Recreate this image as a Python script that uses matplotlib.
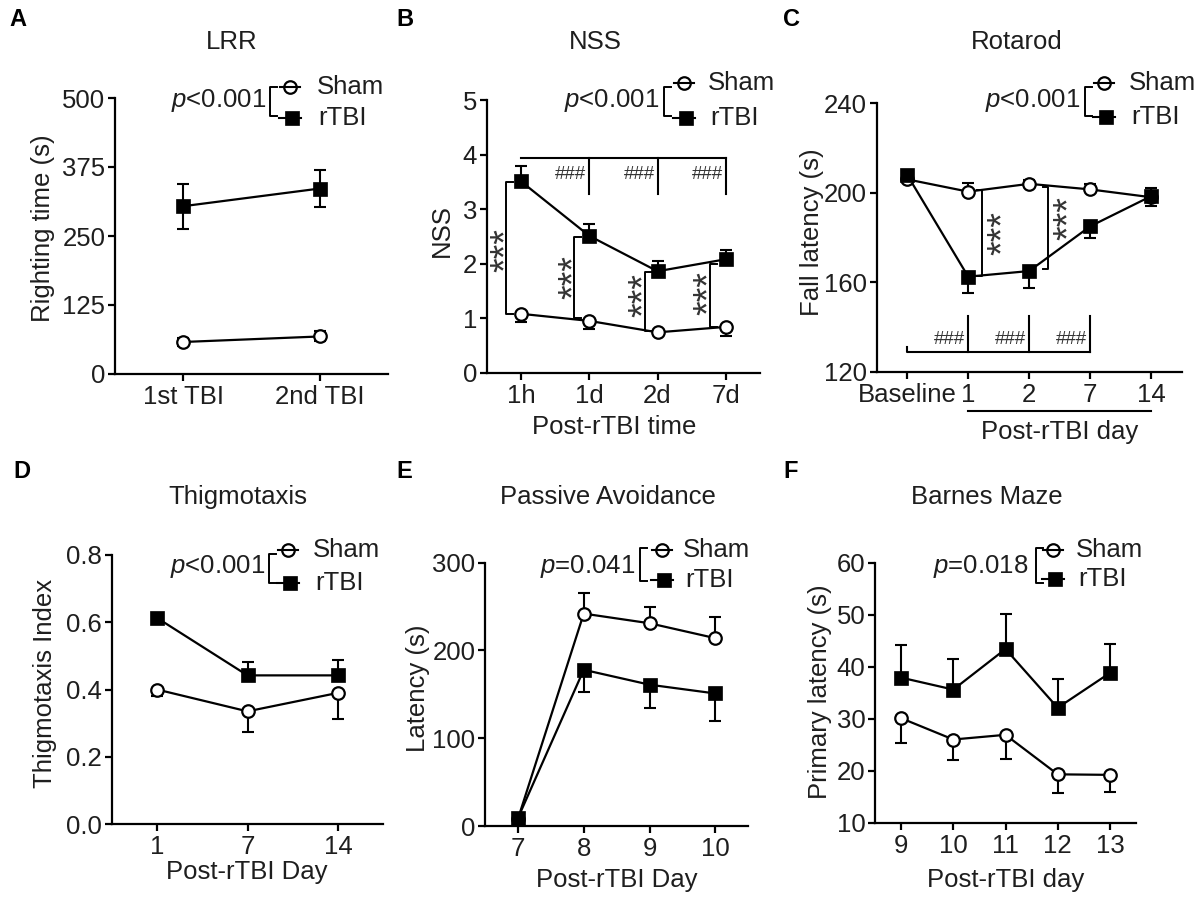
import matplotlib
matplotlib.use('Agg')
import matplotlib.pyplot as plt
from matplotlib.lines import Line2D
import matplotlib.transforms as mtransforms
import numpy as np

plt.rcParams['font.family'] = ['Liberation Sans', 'DejaVu Sans']
plt.rcParams['mathtext.fontset'] = 'custom'
plt.rcParams['mathtext.it'] = 'Liberation Sans:italic'
plt.rcParams['mathtext.rm'] = 'Liberation Sans'

# ---------------- data ----------------
A_groups = ['1st TBI', '2nd TBI']
A_sham = [58, 68]
A_sham_sem = [8, 9]
A_rtbi = [304, 336]
A_rtbi_sem = [41, 34]

B_times = ['1h', '1d', '2d', '7d']
B_sham = [1.08, 0.95, 0.74, 0.84]
B_sham_sem = [0.15, 0.15, 0.05, 0.17]
B_rtbi = [3.51, 2.51, 1.86, 2.08]
B_rtbi_sem = [0.28, 0.22, 0.18, 0.17]

C_days = ['Baseline', '1', '2', '7', '14']
C_sham = [206, 200.5, 204, 201.5, 198]
C_sham_sem = [2, 4, 1.5, 2.5, 4]
C_rtbi = [208, 162.5, 165, 185, 198.5]
C_rtbi_sem = [2.5, 7.5, 7.5, 5, 4.5]

D_days = ['1', '7', '14']
D_sham = [0.40, 0.335, 0.39]
D_sham_sem = [0.02, 0.06, 0.077]
D_rtbi = [0.613, 0.442, 0.442]
D_rtbi_sem = [0.01, 0.04, 0.047]

E_days = ['7', '8', '9', '10']
E_sham = [8, 242, 231, 214]
E_sham_sem = [3, 23, 19, 24]
E_rtbi = [9, 178, 161, 151]
E_rtbi_sem = [3, 25, 27, 31]

F_days = ['9', '10', '11', '12', '13']
F_sham = [30.1, 26.0, 26.9, 19.3, 19.2]
F_sham_sem = [4.7, 3.9, 4.7, 3.6, 3.3]
F_rtbi = [37.9, 35.6, 43.4, 32.1, 38.8]
F_rtbi_sem = [6.2, 5.9, 6.8, 5.5, 5.5]

p_values = ['$p$<0.001', '$p$<0.001', '$p$<0.001', '$p$<0.001', '$p$=0.041', '$p$=0.018']

# ---------------- layout helpers ----------------
W, H = 1200, 898
fig = plt.figure(figsize=(12, 8.98), dpi=100)
TXT = '#1e1e1e'
FS = 18.5


def fx(px):
    return px / W


def fy(py):
    return 1 - py / H


def make_ax(l, r, t, b):
    ax = fig.add_axes([fx(l), fy(b), (r - l) / W, (b - t) / H])
    for s in ['top', 'right']:
        ax.spines[s].set_visible(False)
    for s in ['left', 'bottom']:
        ax.spines[s].set_linewidth(1.6)
        ax.spines[s].set_color('black')
    ax.tick_params(direction='out', length=5, width=1.6, labelsize=FS,
                   labelcolor=TXT, pad=3)
    ax.tick_params(axis='y', pad=2)
    ax.set_facecolor('none')
    return ax


def set_labels(ax, xlabel=None, xpos=None, ylabel=None, ypos=None):
    if xlabel is not None:
        ax.set_xlabel(xlabel, fontsize=FS, color=TXT)
        ax.xaxis.set_label_coords(*xpos)
        ax.xaxis.label.set_verticalalignment('center')
    if ylabel is not None:
        ax.set_ylabel(ylabel, fontsize=FS, color=TXT)
        ax.yaxis.set_label_coords(*ypos)
        ax.yaxis.label.set_verticalalignment('center')


def draw_series(ax, y, sem, kind, direction):
    x = np.arange(len(y))
    y = np.asarray(y, float)
    sem = np.asarray(sem, float)
    lo = sem if direction in ('down', 'both') else np.zeros_like(sem)
    hi = sem if direction in ('up', 'both') else np.zeros_like(sem)
    ax.errorbar(x, y, yerr=[lo, hi], fmt='none', ecolor='k', elinewidth=1.5,
                capsize=4.5, capthick=1.5, zorder=2, clip_on=False)
    ax.plot(x, y, '-', color='k', lw=1.6, zorder=3, clip_on=False)
    if kind == 'sham':
        ax.plot(x, y, 'o', ms=9, mfc='white', mec='k', mew=1.6, zorder=4, clip_on=False)
    else:
        ax.plot(x, y, 's', ms=10.5, mfc='k', mec='k', mew=0.5, zorder=5, clip_on=False)


def fig_line(xs, ys, lw=1.5):
    fig.add_artist(Line2D([fx(v) for v in xs], [fy(v) for v in ys],
                          transform=fig.transFigure, color='k', lw=lw))


def legend(cx, cy_c, cy_s, tx, p_txt, p_right, p_y, br_x0, br_x1, br_y0, br_y1):
    # sham handle (line runs through the open circle)
    fig_line([cx - 10, cx + 10], [cy_c, cy_c])
    fig.add_artist(Line2D([fx(cx)], [fy(cy_c)], transform=fig.transFigure,
                          marker='o', ms=9, mfc='none', mec='k', mew=1.6, ls='none'))
    # rTBI handle
    fig_line([cx - 11, cx + 11], [cy_s, cy_s])
    fig.add_artist(Line2D([fx(cx + 2)], [fy(cy_s)], transform=fig.transFigure,
                          marker='s', ms=10.5, mfc='k', mec='k', mew=0.5, ls='none'))
    fig.text(fx(tx), fy(cy_c), 'Sham', fontsize=FS, color=TXT, ha='left', va='center')
    fig.text(fx(tx + 2), fy(cy_s), 'rTBI', fontsize=FS, color=TXT, ha='left', va='center')
    fig.text(fx(p_right), fy(p_y), p_txt, fontsize=FS, color=TXT, ha='right', va='center')
    fig_line([br_x1, br_x0, br_x0, br_x1], [br_y0, br_y0, br_y1, br_y1], lw=1.4)


def title(x, y, s):
    fig.text(fx(x), fy(y), s, fontsize=FS, color=TXT, ha='center', va='center')


def letter(x, y, s):
    fig.text(fx(x), fy(y), s, fontsize=17, fontweight='bold', color='k',
             ha='left', va='center')


def stars(ax, x, y, dx_px):
    off = mtransforms.ScaledTranslation(dx_px / 100, 0, fig.dpi_scale_trans)
    ax.text(x, y, '***', fontsize=27, color='#333333', rotation=90,
            ha='center', va='center', transform=ax.transData + off)


# ---------------- Panel A ----------------
axA = make_ax(115, 388, 98, 374)
draw_series(axA, A_sham, A_sham_sem, 'sham', 'both')
draw_series(axA, A_rtbi, A_rtbi_sem, 'rtbi', 'both')
axA.set_xlim(-0.5, 1.5)
axA.set_ylim(0, 500)
axA.set_yticks([0, 125, 250, 375, 500])
axA.set_xticks(range(len(A_groups)))
axA.set_xticklabels(A_groups)
set_labels(axA, ylabel='Righting time (s)', ypos=(-0.265, 0.53))
title(231.7, 41.7, 'LRR')
letter(9, 20, 'A')
legend(290, 86.7, 118.3, 316.7, p_values[0], 266.5, 100, 270, 277, 87, 116)

# ---------------- Panel B ----------------
axB = make_ax(486.7, 760, 100, 372.7)
draw_series(axB, B_sham, B_sham_sem, 'sham', 'down')
draw_series(axB, B_rtbi, B_rtbi_sem, 'rtbi', 'up')
axB.set_xlim(-0.5, 3.5)
axB.set_ylim(0, 5)
axB.set_yticks([0, 1, 2, 3, 4, 5])
axB.set_xticks(range(len(B_times)))
axB.set_xticklabels(B_times)
set_labels(axB, xlabel='Post-rTBI time',
           xpos=((614.5 - 486.7) / 273.3, -(426.7 - 372.7) / 272.7),
           ylabel='NSS', ypos=(-0.165, 0.523))
title(595.7, 41.7, 'NSS')
letter(396, 20, 'B')
legend(683.5, 83.3, 118.3, 708.3, p_values[1], 659.5, 100, 664, 671, 87, 116)

# B annotations: ### comparisons vs 1h
B_hash_y_top, B_hash_y_bot, B_hash_y_txt = 3.93, 3.28, 3.63
axB.plot([0, 3], [B_hash_y_top, B_hash_y_top], color='k', lw=1.5, clip_on=False)
for xi in [1, 2, 3]:
    axB.plot([xi, xi], [B_hash_y_top, B_hash_y_bot], color='k', lw=1.5, clip_on=False)
    axB.text(xi - 0.04, B_hash_y_txt, '###', fontsize=13.5, color='#333333',
             ha='right', va='center')
# *** brackets sham vs rTBI
B_br_x = [-0.215, 0.78, 1.82, 2.77]
B_br_top = [3.49, 2.48, 1.85, 1.99]
B_br_bot = [1.08, 1.0, 0.77, 0.84]
B_star_x = [-0.36, 0.64, 1.66, 2.62]
B_star_y = [2.25, 1.76, 1.43, 1.46]
for xb, t, b, sx, sy in zip(B_br_x, B_br_top, B_br_bot, B_star_x, B_star_y):
    axB.plot([xb + 0.1, xb, xb, xb + 0.1], [t, t, b, b], color='k', lw=1.4,
             clip_on=False, zorder=1)
    stars(axB, sx, sy, 10)

# ---------------- Panel C ----------------
axC = make_ax(876.7, 1181.7, 103.3, 371.7)
draw_series(axC, C_sham, C_sham_sem, 'sham', 'up')
draw_series(axC, C_rtbi, C_rtbi_sem, 'rtbi', 'down')
axC.set_xlim(-0.5, 4.5)
axC.set_ylim(120, 240)
axC.set_yticks([120, 160, 200, 240])
axC.set_xticks(range(len(C_days)))
axC.set_xticklabels(C_days)
set_labels(axC, ylabel='Fall latency (s)', ypos=(-0.213, 0.52))
trC = mtransforms.blended_transform_factory(axC.transData, axC.transAxes)
axC.plot([1, 4], [-0.146, -0.146], color='k', lw=1.5, transform=trC, clip_on=False)
axC.text(2.5, -0.2235, 'Post-rTBI day', fontsize=FS, color=TXT, ha='center',
         va='center', transform=trC)
title(1017, 42, 'Rotarod')
letter(783, 20, 'C')
legend(1104, 83.3, 116.7, 1129.3, p_values[2], 1080, 100, 1085, 1092, 87, 116)

# C annotations
C_hash_y_base, C_hash_y_top, C_hash_y_txt = 128.7, 144.8, 134.4
axC.plot([0, 0, 3], [C_hash_y_base + 2.5, C_hash_y_base, C_hash_y_base], color='k',
         lw=1.5, clip_on=False)
for xi in [1, 2, 3]:
    axC.plot([xi, xi], [C_hash_y_base, C_hash_y_top], color='k', lw=1.5, clip_on=False)
    axC.text(xi - 0.05, C_hash_y_txt, '###', fontsize=13.5, color='#333333',
             ha='right', va='center')
C_br_x = [1.23, 2.30]
C_br_top = [201.2, 202.7]
C_br_bot = [162.7, 165.7]
C_star_x = [1.42, 2.50]
C_star_y = [181.8, 188.8]
for xb, t, b, sx, sy in zip(C_br_x, C_br_top, C_br_bot, C_star_x, C_star_y):
    axC.plot([xb - 0.08, xb, xb, xb - 0.08], [t, t, b, b], color='k', lw=1.4,
             clip_on=False, zorder=1)
    stars(axC, sx, sy, 10)

# ---------------- Panel D ----------------
axD = make_ax(111.7, 383.3, 555, 824)
draw_series(axD, D_sham, D_sham_sem, 'sham', 'down')
draw_series(axD, D_rtbi, D_rtbi_sem, 'rtbi', 'up')
axD.set_xlim(-0.5, 2.5)
axD.set_ylim(0, 0.8)
axD.set_yticks([0, 0.2, 0.4, 0.6, 0.8])
axD.set_yticklabels(['0.0', '0.2', '0.4', '0.6', '0.8'])
axD.set_xticks(range(len(D_days)))
axD.set_xticklabels(D_days)
set_labels(axD, xlabel='Post-rTBI Day',
           xpos=((246.7 - 111.7) / 271.6, -(871.7 - 824) / 269),
           ylabel='Thigmotaxis Index', ypos=(-0.246, 0.523))
title(238.3, 496.7, 'Thigmotaxis')
letter(13, 471.7, 'D')
legend(288, 550, 583.3, 313.3, p_values[3], 265, 566.7, 268.5, 276, 554, 583)

# ---------------- Panel E ----------------
axE = make_ax(485, 748.3, 562.7, 826)
draw_series(axE, E_sham, E_sham_sem, 'sham', 'up')
draw_series(axE, E_rtbi, E_rtbi_sem, 'rtbi', 'down')
axE.set_xlim(-0.5, 3.5)
axE.set_ylim(0, 300)
axE.set_yticks([0, 100, 200, 300])
axE.set_xticks(range(len(E_days)))
axE.set_xticklabels(E_days)
set_labels(axE, xlabel='Post-rTBI Day',
           xpos=((616.7 - 485) / 263.3, -(880 - 826) / 263.3),
           ylabel='Latency (s)', ypos=(-0.256, 0.523))
title(608.3, 496.7, 'Passive Avoidance')
letter(396, 471.7, 'E')
legend(662, 550, 580, 683.3, p_values[4], 635, 566.7, 640.5, 647, 548, 581)

# ---------------- Panel F ----------------
axF = make_ax(875, 1136, 562.7, 822.7)
draw_series(axF, F_sham, F_sham_sem, 'sham', 'down')
draw_series(axF, F_rtbi, F_rtbi_sem, 'rtbi', 'up')
axF.set_xlim(-0.5, 4.5)
axF.set_ylim(10, 60)
axF.set_yticks([10, 20, 30, 40, 50, 60])
axF.set_xticks(range(len(F_days)))
axF.set_xticklabels(F_days)
set_labels(axF, xlabel='Post-rTBI day',
           xpos=((1005.8 - 875) / 261, -(880 - 822.7) / 260),
           ylabel='Primary latency (s)', ypos=(-0.21, 0.504))
title(986.7, 496.7, 'Barnes Maze')
letter(783, 471.7, 'F')
legend(1052.5, 550, 579.3, 1076, p_values[5], 1028.5, 566.7, 1035.5, 1043, 548, 583)

fig.savefig('out.png', dpi=100, facecolor='white')
